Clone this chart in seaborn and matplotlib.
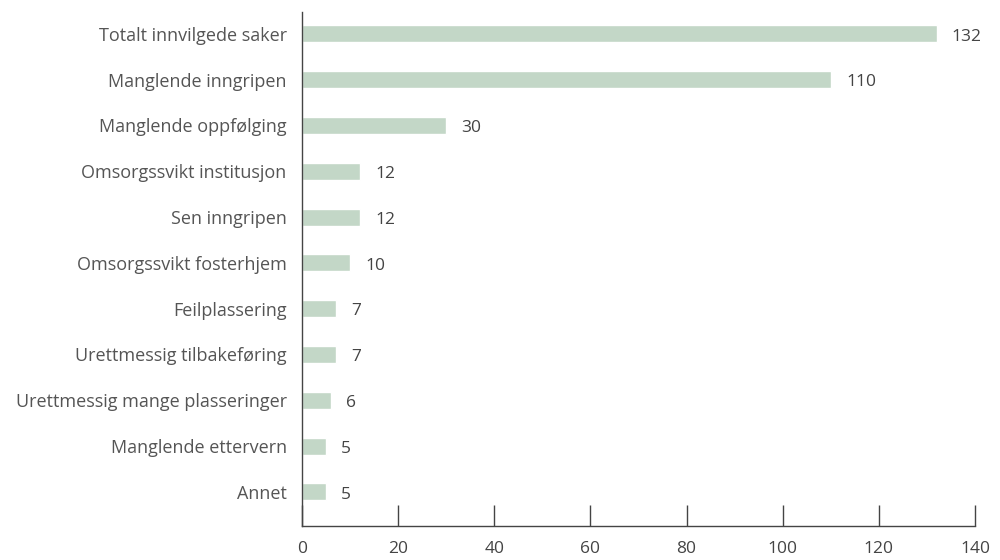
import matplotlib
matplotlib.use("Agg")
import matplotlib.pyplot as plt
import seaborn as sns
import pandas as pd

# Data
categories = [
    "Totalt innvilgede saker",
    "Manglende inngripen",
    "Manglende oppfølging",
    "Omsorgssvikt institusjon",
    "Sen inngripen",
    "Omsorgssvikt fosterhjem",
    "Feilplassering",
    "Urettmessig tilbakeføring",
    "Urettmessig mange plasseringer",
    "Manglende ettervern",
    "Annet",
]
values = [132, 110, 30, 12, 12, 10, 7, 7, 6, 5, 5]
xticks = [0, 20, 40, 60, 80, 100, 120, 140]

df = pd.DataFrame({"kategori": categories, "antall": values})

sns.set_style("white")
plt.rcParams["font.family"] = ["Open Sans", "DejaVu Sans"]

fig = plt.figure(figsize=(10, 5.6), dpi=100)
ax = fig.add_axes([0.302, 0.061, 0.673, 0.918])

sns.barplot(data=df, x="antall", y="kategori", color="#c3d7c7",
            saturation=1, width=0.37, ax=ax)

# value labels, nudged a little below bar centre
texts = ax.bar_label(ax.containers[0], labels=[str(v) for v in values],
                     padding=11, fontsize=12.5, color="#444444")
for t in texts:
    t.xyann = (11, -2)

ax.set_xlim(0, 140)
ax.set_ylim(10.74, -0.48)
ax.set_xticks(xticks)
ax.set_xlabel("")
ax.set_ylabel("")

sns.despine(ax=ax, top=True, right=True)
for s in ["left", "bottom"]:
    ax.spines[s].set_color("#444444")
    ax.spines[s].set_linewidth(1)

ax.tick_params(axis="x", bottom=True, direction="in", length=15, width=1,
               color="#444444", labelsize=12.5, labelcolor="#444444", pad=11)
ax.tick_params(axis="y", left=False, length=0, labelsize=13,
               labelcolor="#555555", pad=11)

fig.savefig("out.png", dpi=100)
